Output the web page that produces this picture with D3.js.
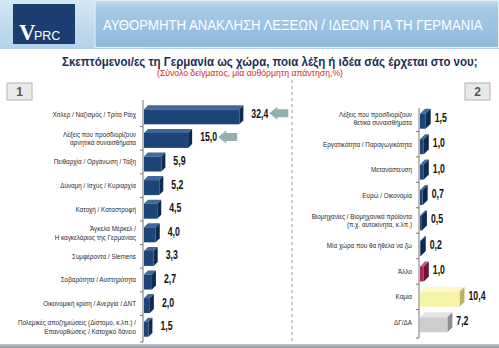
<!DOCTYPE html>
<html><head><meta charset="utf-8">
<script src="https://cdn.jsdelivr.net/npm/d3@7"></script>
<style>body{margin:0;background:#fff}svg{display:block}</style>
</head><body>
<script>
// ---- data ----
const title = "ΑΥΘΟΡΜΗΤΗ ΑΝΑΚΛΗΣΗ ΛΕΞΕΩΝ / ΙΔΕΩΝ ΓΙΑ ΤΗ ΓΕΡΜΑΝΙΑ";
const question = "Σκεπτόμενοι/ες τη Γερμανία ως χώρα, ποια λέξη ή ιδέα σάς έρχεται στο νου;";
const note = "(Σύνολο δείγματος, μία αυθόρμητη απάντηση,%)";
const leftCats = [
  "Χίτλερ / Ναζισμός / Τρίτο Ράιχ",
  "Λέξεις που προσδιορίζουν\nαρνητικά συναισθήματα",
  "Πειθαρχία /  Οργάνωση / Τάξη",
  "Δύναμη / Ισχύς / Κυριαρχία",
  "Κατοχή / Καταστροφή",
  "Άγκελα Μέρκελ /\nΗ καγκελάριος της Γερμανίας",
  "Συμφέροντα / Siemens",
  "Σοβαρότητα / Αυστηρότητα",
  "Οικονομική κρίση / Ανεργία / ΔΝΤ",
  "Πολεμικές αποζημιώσεις (Δίστομο, κ.λπ.) /\nΕπανορθώσεις / Κατοχικό δάνειο"
];
const leftVals = [32.4, 15.0, 5.9, 5.2, 4.5, 4.0, 3.3, 2.7, 2.0, 1.5];
const leftArrows = [true, true, false, false, false, false, false, false, false, false];
const rightCats = [
  "Λέξεις που προσδιορίζουν\nθετικά συναισθήματα",
  "Εργατικότητα / Παραγωγικότητα",
  "Μετανάστευση",
  "Ευρώ / Οικονομία",
  "Βιομηχανίες / Βιομηχανικά προϊόντα\n(π.χ.  αυτοκίνητα, κ.λπ.)",
  "Μία χώρα που θα ήθελα να ζω",
  "Άλλο",
  "Καμία",
  "ΔΓ/ΔΑ"
];
const rightVals = [1.5, 1.0, 1.0, 0.7, 0.5, 0.2, 1.0, 10.4, 7.2];
const rightKinds = ["main","main","main","main","main","main","other","none","dk"];

// ---- styles ----
const palette = {
  main: {front:"#1d4577", top:"#41699b", side:"#0d2a50"},
  other:{front:"#a3285c", top:"#c45884", side:"#6e1238"},
  none: {front:"#f6f2a6", top:"#fbf8cc", side:"#b9b36a"},
  dk:   {front:"#cdcdcd", top:"#e4e4e4", side:"#8e8e8e"}
};
const fmt = v => d3.format(".1f")(v).replace(".", ",");

const W = 499, H = 348;
const svg = d3.select("body").append("svg").attr("width", W).attr("height", H)
  .style("font-family", "'Liberation Sans', Arial, sans-serif");

// horizontal squeeze of a text around its anchor x
function squeeze(sel, k, ax){
  sel.attr("transform", `translate(${ax},0) scale(${k},1) translate(${-ax},0)`);
}
function fitWidth(sel, target, ax){
  const w = sel.node().getComputedTextLength();
  squeeze(sel, target / w, ax);
}

const defs = svg.append("defs");
const g1 = defs.append("linearGradient").attr("id","hdr").attr("x1",0).attr("y1",0).attr("x2",0).attr("y2",1);
g1.append("stop").attr("offset",0).attr("stop-color","#c4def0");
g1.append("stop").attr("offset",0.15).attr("stop-color","#a7cae6");
g1.append("stop").attr("offset",1).attr("stop-color","#8dbadd");
const g2 = defs.append("linearGradient").attr("id","outer").attr("x1",0).attr("y1",0).attr("x2",0).attr("y2",1);
g2.append("stop").attr("offset",0).attr("stop-color","#d4e7f4");
g2.append("stop").attr("offset",1).attr("stop-color","#b2d1e9");
const g3 = defs.append("linearGradient").attr("id","foot").attr("x1",0).attr("y1",0).attr("x2",0).attr("y2",1);
g3.append("stop").attr("offset",0).attr("stop-color","#c2c8ce");
g3.append("stop").attr("offset",1).attr("stop-color","#8f979f");

// ---- header ----
svg.append("rect").attr("x",0).attr("y",0).attr("width",W).attr("height",49).attr("fill","url(#outer)");
svg.append("rect").attr("x",95).attr("y",0.5).attr("width",W-95.5).attr("height",47).attr("fill","url(#hdr)")
  .attr("stroke","#e6f1f9").attr("stroke-width",1);
svg.append("rect").attr("x",13).attr("y",4).attr("width",62).attr("height",40).attr("fill","#1b3d6f");
svg.append("text").attr("x",19).attr("y",40).attr("fill","#fff").attr("font-size",23).attr("font-weight","bold")
  .attr("font-family","'Liberation Serif', serif").text("V");
svg.append("text").attr("x",34).attr("y",40).attr("fill","#fff").attr("font-size",12.5).text("PRC");
const tt = svg.append("text").attr("x",103).attr("y",30).attr("fill","#fff").attr("font-size",14.5).text(title);
fitWidth(tt, 380, 103);

const qt = svg.append("text").attr("x",62).attr("y",66).attr("fill","#1b2f55")
  .attr("font-size",12).attr("font-weight","bold").text(question);
fitWidth(qt, 416, 62);
const nt = svg.append("text").attr("x",157).attr("y",76).attr("fill","#d0281e")
  .attr("font-size",9).text(note);
fitWidth(nt, 186, 157);

// section boxes
function box(x, label){
  svg.append("rect").attr("x",x).attr("y",83).attr("width",25).attr("height",17)
    .attr("fill","#e9e9e9").attr("stroke","#b4b4b4");
  svg.append("text").attr("x",x+12.5).attr("y",96).attr("text-anchor","middle").attr("fill","#555")
    .attr("font-size",12).attr("font-weight","bold").text(label);
}
box(7,"1"); box(465,"2");

// dashed divider
svg.append("line").attr("x1",292).attr("x2",292).attr("y1",80).attr("y2",344)
  .attr("stroke","#999").attr("stroke-dasharray","3,3").attr("stroke-width",1);

// footer band
svg.append("rect").attr("x",0).attr("y",344).attr("width",W).attr("height",4).attr("fill","url(#foot)");

// label squeeze factor (measured from longest label)
const probe = svg.append("text").attr("font-size",7.2).text("Πολεμικές αποζημιώσεις (Δίστομο, κ.λπ.) /");
const labelK = 118 / probe.node().getComputedTextLength();
probe.remove();
const vprobe = svg.append("text").attr("font-size",12.5).attr("font-weight","bold").text("32,4");
const valK = 17 / vprobe.node().getComputedTextLength();
vprobe.remove();

// ---- bar drawing ----
function draw3d(gr, x0, yc, w, h, d, col){
  const yt = yc - h/2 + d/2, yb = yt + h;
  gr.append("polygon").attr("points", [[x0,yt],[x0+d,yt-d],[x0+w+d,yt-d],[x0+w,yt]].join(" ")).attr("fill",col.top);
  gr.append("polygon").attr("points", [[x0+w,yt],[x0+w+d,yt-d],[x0+w+d,yb-d],[x0+w,yb]].join(" ")).attr("fill",col.side);
  gr.append("rect").attr("x",x0).attr("y",yt).attr("width",w).attr("height",h).attr("fill",col.front);
}

function panel(cats, vals, kinds, opt){
  const y = d3.scaleBand().domain(cats).range(opt.yRange).paddingInner(0);
  const x = d3.scaleLinear().domain(opt.xDomain).range([opt.x0, opt.x0 + opt.xLen]);
  const gr = svg.append("g");
  gr.append("line").attr("x1",opt.x0-1).attr("x2",opt.x0-1).attr("y1",opt.axisTop).attr("y2",opt.yRange[1]+3)
    .attr("stroke","#777").attr("stroke-width",1);
  const bounds = cats.map(c => y(c)).concat([opt.yRange[1]+3]).slice(1);
  bounds.forEach(b => gr.append("line").attr("x1",opt.x0-4).attr("x2",opt.x0-1).attr("y1",b).attr("y2",b).attr("stroke","#777"));
  cats.forEach((c,i) => {
    const yc = y(c) + y.bandwidth()/2;
    const col = palette[kinds[i]];
    const w = x(vals[i]) - x(0);
    draw3d(gr, x(0), yc, w, opt.barH, opt.depth, col);
    const vx = x(vals[i]) + opt.depth + opt.gap;
    const vt = gr.append("text").attr("x", vx).attr("y", yc + 3)
      .attr("font-size",12.5).attr("font-weight","bold").attr("fill","#111")
      .text(fmt(vals[i]));
    squeeze(vt, valK, vx);
    const lines = c.split("\n");
    const lx = opt.x0 - 8;
    const t = gr.append("text").attr("x", lx).attr("text-anchor","end").attr("fill","#2a2a2a")
      .attr("font-size",7.2);
    lines.forEach((ln, k) => {
      t.append("tspan").attr("x", lx)
        .attr("y", yc + 2.5 + (k - (lines.length-1)/2) * 8.5).text(ln);
    });
    squeeze(t, labelK, lx);
  });
  return {x, y};
}

const L = panel(leftCats, leftVals, leftCats.map(()=> "main"),
  {yRange:[103,339], xDomain:[0,35], x0:144, xLen:103, barH:15, depth:4, gap:8, axisTop:100});
const R = panel(rightCats, rightVals, rightKinds,
  {yRange:[106,335], xDomain:[0,12], x0:420, xLen:45.6, barH:15, depth:5, gap:4, axisTop:108});

// arrows pointing to highlighted values
leftCats.forEach((c,i) => {
  if(!leftArrows[i]) return;
  const yc = L.y(c) + L.y.bandwidth()/2 - 1.5;
  const tip = L.x(leftVals[i]) + 4 + 8 + 18;
  const len = 19;
  svg.append("polygon").attr("fill","#93b0b1")
    .attr("points", [[tip,yc],[tip+8,yc-6.5],[tip+8,yc-4],[tip+len,yc-4],[tip+len,yc+4],[tip+8,yc+4],[tip+8,yc+6.5]].join(" "));
});
</script>
</body></html>
